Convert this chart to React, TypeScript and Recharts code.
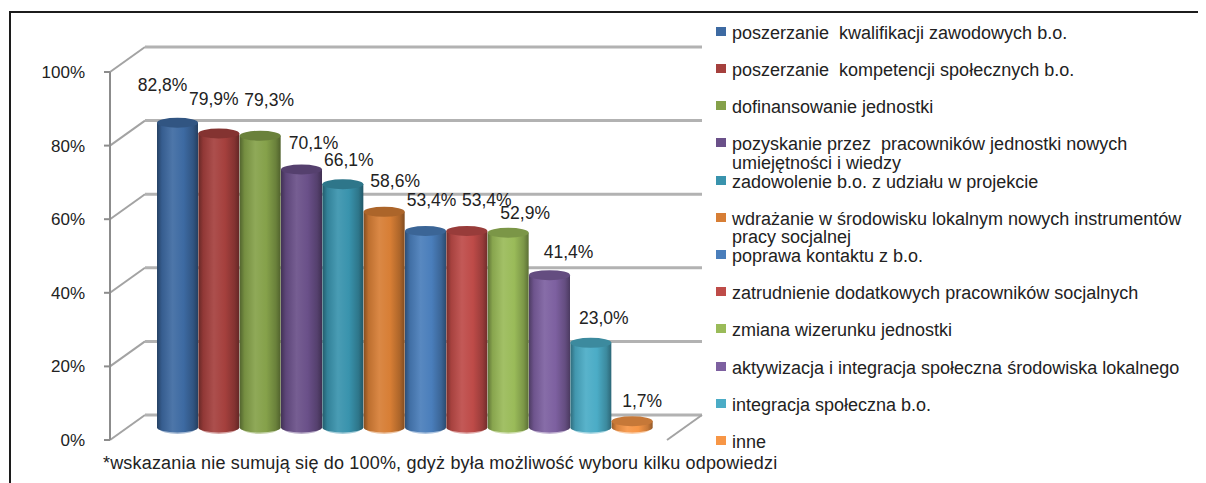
import React from 'react';
import { BarChart, Bar, XAxis, YAxis, CartesianGrid, LabelList } from 'recharts';

const categories = [
  'poszerzanie  kwalifikacji zawodowych b.o.',
  'poszerzanie  kompetencji społecznych b.o.',
  'dofinansowanie jednostki',
  'pozyskanie przez  pracowników jednostki nowych umiejętności i wiedzy',
  'zadowolenie b.o. z udziału w projekcie',
  'wdrażanie w środowisku lokalnym nowych instrumentów pracy socjalnej',
  'poprawa kontaktu z b.o.',
  'zatrudnienie dodatkowych pracowników socjalnych',
  'zmiana wizerunku jednostki',
  'aktywizacja i integracja społeczna środowiska lokalnego',
  'integracja społeczna b.o.',
  'inne',
];
const values = [82.8, 79.9, 79.3, 70.1, 66.1, 58.6, 53.4, 53.4, 52.9, 41.4, 23.0, 1.7];
const colors = ['#3D6AA2', '#A5403D', '#85A14A', '#6A5089', '#3993AD', '#D77E35', '#4A7EBB', '#BE4B48', '#9ABB59', '#7D60A0', '#4BACC6', '#F79646'];
const yTicks = [0, 20, 40, 60, 80, 100];
const footnote = '*wskazania nie sumują się do 100%, gdyż była możliwość wyboru kilku odpowiedzi';

// relative nudges of the value labels (as placed in the original chart)
const labelNudgeX = [-15, -5, 9, 12, 6, 11, 6, 20, 17, 19, 13, 10];
const labelNudgeY = [-38, -34, -36, -27, -24, -31, -31, -31, -20, -23, -25, -20];

const data = categories.map((name, i) => ({ name, value: values[i], idx: i }));

const FONT = "'Liberation Sans', Arial, Helvetica, sans-serif";
const W = 1198;
const H = 475;
const PLOT_LEFT = 102;
const PLOT_RIGHT = 659;
const PLOT_TOP = 64;
const PLOT_BOTTOM = 432;
const YAXIS_W = 80;
const DX = 35; // depth offset x (back wall)
const DY = 25; // depth offset y (back wall)
const BX = DX / 2;
const BY = DY / 2;

function shade(hex: string, f: number): string {
  const n = parseInt(hex.slice(1), 16);
  let r = (n >> 16) & 255, g = (n >> 8) & 255, b = n & 255;
  if (f <= 1) {
    r *= f; g *= f; b *= f;
  } else {
    const t = f - 1;
    r = r + (255 - r) * t; g = g + (255 - g) * t; b = b + (255 - b) * t;
  }
  const c = (v: number) => Math.max(0, Math.min(255, Math.round(v))).toString(16).padStart(2, '0');
  return '#' + c(r) + c(g) + c(b);
}

const Cylinder = (props: any) => {
  const { x, y, width, height, payload } = props;
  if (width == null || y == null) return null;
  const i = payload.idx;
  const c = colors[i];
  const rx = width / 2;
  const ry = 5;
  const cx = x + rx + BX;
  const top = y - BY;
  const bottom = y + height - BY;
  const left = cx - rx;
  const right = cx + rx;
  return (
    <g>
      <ellipse cx={cx} cy={bottom + 1.5} rx={rx - 3} ry={ry} fill={shade(c, 1.55)} />
      <path
        d={`M${left},${top} L${left},${bottom} A${rx},${ry} 0 0 0 ${right},${bottom} L${right},${top} Z`}
        fill={`url(#cyl-${i})`}
      />
      <ellipse cx={cx} cy={top} rx={rx} ry={ry} fill={shade(c, 0.8)} />
    </g>
  );
};

const renderGridLine = (props: any) => {
  const { x1, x2, y1, index } = props;
  const y = y1;
  const isFloor = Math.abs(y - PLOT_BOTTOM) < 1;
  return (
    <g key={`grid-${index}`}>
      <line x1={x1} y1={y} x2={x1 + DX} y2={y - DY} stroke="#A3A3A3" strokeWidth={2} />
      <line x1={x1 + DX} y1={y - DY} x2={x2 + DX} y2={y - DY} stroke="#B2B2B2" strokeWidth={3} />
      {isFloor && <line x1={x2} y1={y} x2={x2 + DX} y2={y - DY} stroke="#A3A3A3" strokeWidth={2} />}
    </g>
  );
};

const renderLabel = (props: any) => {
  const { x, y, width, value, index } = props;
  if (x == null) return null;
  const cx = x + width / 2 + BX + labelNudgeX[index];
  const cy = y - BY + labelNudgeY[index];
  return (
    <text key={`lbl-${index}`} x={cx} y={cy + 6} textAnchor="middle" fontSize={17.5} fontFamily={FONT} fill="#222">
      {Number(value).toFixed(1).replace('.', ',') + '%'}
    </text>
  );
};

const LEGEND_TOP = 25;
const LEGEND_PITCH = 37.2;
const LEGEND_LH = 18.5;

export default function App() {
  return (
    <div style={{ position: 'relative', width: W, height: H, background: '#fff', fontFamily: FONT }}>
      <div
        style={{
          position: 'absolute',
          left: 1,
          top: 3,
          right: 0,
          bottom: 0,
          borderTop: '2px solid #1c1c1c',
          borderLeft: '2px solid #1c1c1c',
        }}
      />
      <div style={{ position: 'absolute', left: 0, top: 0 }}>
        <BarChart
          width={W}
          height={H}
          data={data}
          margin={{ top: PLOT_TOP, right: W - PLOT_RIGHT, bottom: H - PLOT_BOTTOM, left: PLOT_LEFT - YAXIS_W }}
          barCategoryGap={0}
        >
          <defs>
            {colors.map((c, i) => (
              <linearGradient key={i} id={`cyl-${i}`} x1="0" y1="0" x2="1" y2="0">
                <stop offset="0%" stopColor={shade(c, 0.62)} />
                <stop offset="12%" stopColor={shade(c, 0.88)} />
                <stop offset="38%" stopColor={shade(c, 1.08)} />
                <stop offset="65%" stopColor={shade(c, 1.0)} />
                <stop offset="88%" stopColor={shade(c, 0.8)} />
                <stop offset="100%" stopColor={shade(c, 0.6)} />
              </linearGradient>
            ))}
          </defs>
          <CartesianGrid vertical={false} horizontal={renderGridLine} />
          <XAxis
            dataKey="name"
            height={0}
            tick={false}
            tickLine={false}
            axisLine={{ stroke: '#8C8C8C', strokeWidth: 2 }}
            padding={{ left: 29.5, right: 31.5 }}
          />
          <YAxis
            width={YAXIS_W}
            domain={[0, 100]}
            ticks={yTicks}
            interval={0}
            tickFormatter={(v: number) => `${v}%`}
            tickSize={6}
            tickMargin={19}
            tickLine={{ stroke: '#8C8C8C', strokeWidth: 2 }}
            axisLine={{ stroke: '#8C8C8C', strokeWidth: 2 }}
            tick={{ fontSize: 17, fill: '#222', fontFamily: FONT }}
          />
          <Bar dataKey="value" isAnimationActive={false} shape={Cylinder}>
            <LabelList dataKey="value" content={renderLabel} />
          </Bar>
        </BarChart>
      </div>
      {categories.map((name, i) => (
        <div
          key={name}
          style={{
            position: 'absolute',
            left: 708,
            top: LEGEND_TOP + i * LEGEND_PITCH - LEGEND_LH / 2,
            width: 490,
            height: LEGEND_LH,
          }}
        >
          <div style={{ position: 'absolute', left: 0, top: 3, width: 10, height: 9, background: colors[i] }} />
          <div
            style={{
              position: 'absolute',
              left: 16,
              top: 0,
              width: 464,
              fontSize: 18,
              lineHeight: `${LEGEND_LH}px`,
              color: '#222',
              whiteSpace: 'pre-wrap',
            }}
          >
            {name}
          </div>
        </div>
      ))}
      <div
        style={{
          position: 'absolute',
          left: 95,
          top: 445,
          fontSize: 18,
          letterSpacing: 0.18,
          lineHeight: '20px',
          color: '#222',
          whiteSpace: 'nowrap',
        }}
      >
        {footnote}
      </div>
    </div>
  );
}
